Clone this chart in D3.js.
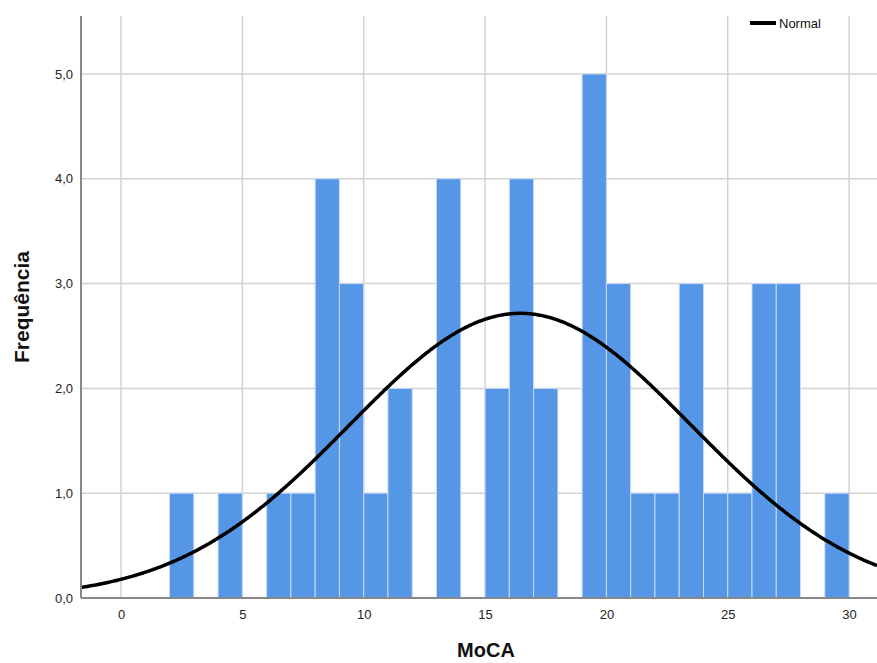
<!DOCTYPE html>
<html>
<head>
<meta charset="utf-8">
<script src="https://cdn.jsdelivr.net/npm/d3@7"></script>
<style>
  body { margin: 0; background: #fff; }
  svg { display: block; font-family: "Liberation Sans", Arial, sans-serif; }
</style>
</head>
<body>
<svg id="chart" width="877" height="663"></svg>
<script>
// Histogram bins (left edge of each 1-unit bin) and frequencies
const binStarts = [2, 4, 6, 7, 8, 9, 10, 11, 13, 15, 16, 17, 19, 20, 21, 22, 23, 24, 25, 26, 27, 29];
const counts    = [1, 1, 1, 1, 4, 3, 1, 2, 4, 2, 4, 2, 5, 3, 1, 1, 3, 1, 1, 3, 3, 1];
const binWidth = 1;
const xTicks = [0, 5, 10, 15, 20, 25, 30];
const yTicks = [0, 1, 2, 3, 4, 5];
// Fitted normal curve parameters
const normalMean = 16.45;
const normalSD = 7.05;
const N = 48;

const svg = d3.select("#chart");
const pLeft = 81, pRight = 877, pTop = 16, pBottom = 598;

const x = d3.scaleLinear().domain([-1.648, 31.15]).range([pLeft, pRight]);
const y = d3.scaleLinear().domain([0, 5.553]).range([pBottom, pTop]);

// Gridlines
const grid = svg.append("g");
grid.selectAll("line.v").data(xTicks).join("line").attr("class", "v")
  .attr("x1", d => x(d)).attr("x2", d => x(d))
  .attr("y1", pTop).attr("y2", pBottom)
  .attr("stroke", "#d3d3d3").attr("stroke-width", 1.5);
grid.selectAll("line.h").data(yTicks.filter(d => d > 0)).join("line").attr("class", "h")
  .attr("x1", pLeft).attr("x2", pRight)
  .attr("y1", d => y(d)).attr("y2", d => y(d))
  .attr("stroke", "#d3d3d3").attr("stroke-width", 1.5);

// Bars
const bars = binStarts.map((s, i) => ({ s, c: counts[i] }));
svg.append("g").selectAll("rect").data(bars).join("rect")
  .attr("x", d => x(d.s))
  .attr("width", d => x(d.s + binWidth) - x(d.s))
  .attr("y", d => y(d.c))
  .attr("height", d => y(0) - y(d.c))
  .attr("fill", "#5596e6")
  .attr("stroke", "#c9dcf5")
  .attr("stroke-width", 1);

// Normal curve
const xs = d3.range(-1.648, 31.15, 0.05).concat([31.15]);
const pdf = v => N * binWidth / (normalSD * Math.sqrt(2 * Math.PI)) *
  Math.exp(-0.5 * Math.pow((v - normalMean) / normalSD, 2));
svg.append("path")
  .datum(xs)
  .attr("d", d3.line().x(d => x(d)).y(d => y(pdf(d))))
  .attr("fill", "none")
  .attr("stroke", "#000")
  .attr("stroke-width", 3.5);

// Axes
const xAxis = svg.append("g").attr("transform", `translate(0,${pBottom})`)
  .call(d3.axisBottom(x).tickValues(xTicks).tickSize(0).tickPadding(12).tickFormat(d3.format("d")));
xAxis.select(".domain").attr("stroke", "#888").attr("stroke-width", 2)
  .attr("d", `M${pLeft},0H${pRight}`);
xAxis.selectAll("text").attr("font-size", 13).attr("fill", "#222")
  .attr("font-family", "Liberation Sans, Arial, sans-serif");

const yAxis = svg.append("g").attr("transform", `translate(${pLeft},0)`)
  .call(d3.axisLeft(y).tickValues(yTicks).tickSize(0).tickPadding(8)
    .tickFormat(d => d3.format(".1f")(d).replace(".", ",")));
yAxis.select(".domain").attr("stroke", "#888").attr("stroke-width", 2)
  .attr("d", `M0,${pTop}V${pBottom}`);
yAxis.selectAll("text").attr("font-size", 13).attr("fill", "#222")
  .attr("font-family", "Liberation Sans, Arial, sans-serif");

// Axis titles
svg.append("text")
  .attr("x", 486).attr("y", 657)
  .attr("text-anchor", "middle")
  .attr("font-size", 20).attr("font-weight", "bold").attr("fill", "#111")
  .text("MoCA");
svg.append("text")
  .attr("transform", "translate(29,307) rotate(-90)")
  .attr("text-anchor", "middle")
  .attr("font-size", 21).attr("font-weight", "bold").attr("fill", "#111")
  .text("Frequência");

// Legend
svg.append("line")
  .attr("x1", 750).attr("x2", 776).attr("y1", 23).attr("y2", 23)
  .attr("stroke", "#000").attr("stroke-width", 4);
svg.append("text")
  .attr("x", 779).attr("y", 28)
  .attr("font-size", 13).attr("fill", "#111")
  .text("Normal");
</script>
</body>
</html>
